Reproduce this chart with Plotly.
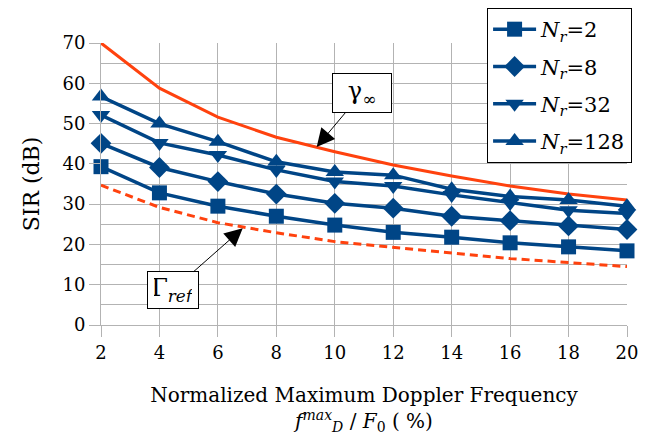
import plotly.graph_objects as go

x_vals = [2, 4, 6, 8, 10, 12, 14, 16, 18, 20]
nr2 = [39.3, 32.8, 29.5, 27.0, 24.8, 23.0, 21.8, 20.4, 19.4, 18.4]
nr8 = [45.1, 39.1, 35.6, 32.5, 30.2, 29.0, 27.0, 25.9, 24.6, 23.7]
nr32 = [52.1, 45.2, 42.2, 38.5, 35.6, 34.5, 32.3, 30.3, 28.5, 27.7]
nr128 = [56.7, 50.0, 45.5, 40.5, 38.0, 37.2, 33.7, 31.9, 31.0, 29.5]
gamma_inf = [70.0, 58.8, 51.6, 46.6, 43.0, 39.7, 37.0, 34.5, 32.5, 31.0]
gamma_ref = [34.7, 29.2, 25.4, 22.9, 20.7, 19.3, 17.9, 16.5, 15.5, 14.5]

series_names = ["<i>N</i><sub><i>r</i></sub>=2", "<i>N</i><sub><i>r</i></sub>=8",
                "<i>N</i><sub><i>r</i></sub>=32", "<i>N</i><sub><i>r</i></sub>=128"]
series_vals = [nr2, nr8, nr32, nr128]
symbols = ["square", "diamond", "triangle-down", "triangle-up"]
sizes = [15, 16, 16, 16]

BLUE = "#004586"
RED = "#ff420e"
SERIF = "DejaVu Serif"

fig = go.Figure()

fig.add_trace(go.Scatter(x=x_vals, y=gamma_inf, mode="lines",
                         line=dict(color=RED, width=3), showlegend=False,
                         cliponaxis=False))
fig.add_trace(go.Scatter(x=x_vals, y=gamma_ref, mode="lines",
                         line=dict(color=RED, width=3, dash="8px,5px"),
                         showlegend=False, cliponaxis=False))

for i, (name, vals, sym, sz) in enumerate(zip(series_names, series_vals, symbols, sizes)):
    fig.add_trace(go.Scatter(x=x_vals, y=vals, mode="lines+markers", name=name,
                             legendgroup=f"g{i}",
                             line=dict(color=BLUE, width=3.5),
                             marker=dict(symbol=sym, size=sz, color=BLUE),
                             cliponaxis=False))

fig.add_annotation(x=9.38, y=44.2, ax=10.93, ay=57.6, axref="x", ayref="y",
                   text="γ<sub>∞</sub>", showarrow=True, arrowhead=2, arrowsize=3.6,
                   arrowwidth=1, arrowcolor="black", bordercolor="black", borderwidth=1,
                   bgcolor="white", borderpad=6, font=dict(family=SERIF, size=24, color="black"),
                   width=46, height=26)
fig.add_annotation(x=6.85, y=24.0, ax=4.46, ay=8.7, axref="x", ayref="y",
                   text="Γ<sub><i>ref</i></sub>", showarrow=True, arrowhead=2, arrowsize=3.6,
                   arrowwidth=1, arrowcolor="black", bordercolor="black", borderwidth=1,
                   bgcolor="white", borderpad=6, font=dict(family=SERIF, size=24, color="black"),
                   width=38, height=24)

fig.update_layout(
    width=658, height=438,
    margin=dict(l=101, r=31, t=43, b=113, autoexpand=False),
    paper_bgcolor="white", plot_bgcolor="white",
    font=dict(family=SERIF, size=18, color="black"),
    legend=dict(x=0.734, y=1.124, xanchor="left", yanchor="top",
                bordercolor="black", borderwidth=1, bgcolor="white",
                font=dict(family=SERIF, size=21, color="black"),
                tracegroupgap=7, itemwidth=43),
    xaxis=dict(range=[2, 20], tickmode="array", tickvals=x_vals,
               showgrid=True, gridcolor="#b3b3b3", gridwidth=1,
               showline=True, linecolor="#b3b3b3", ticks="outside",
               tickcolor="#b3b3b3", ticklen=11, zeroline=False,
               tickfont=dict(family=SERIF, size=18),
               title=dict(text="Normalized Maximum Doppler Frequency<br><i>f</i><sup><i>max</i></sup><sub><i>D</i></sub> / <i>F</i><sub>0</sub> ( %)",
                          font=dict(family=SERIF, size=20), standoff=26)),
    yaxis=dict(range=[0, 70], dtick=10, showgrid=True, gridcolor="#b3b3b3", gridwidth=1,
               minor=dict(dtick=5, showgrid=True, gridcolor="#b3b3b3", gridwidth=1),
               showline=True, linecolor="#b3b3b3", ticks="outside",
               tickcolor="#b3b3b3", ticklen=11, zeroline=False,
               tickfont=dict(family=SERIF, size=18),
               title=dict(text="SIR (dB)", font=dict(family=SERIF, size=22), standoff=16)),
)

fig.write_html("out.html", config={"displayModeBar": False},
               post_script="document.body.style.margin='0';document.body.style.padding='0';")
